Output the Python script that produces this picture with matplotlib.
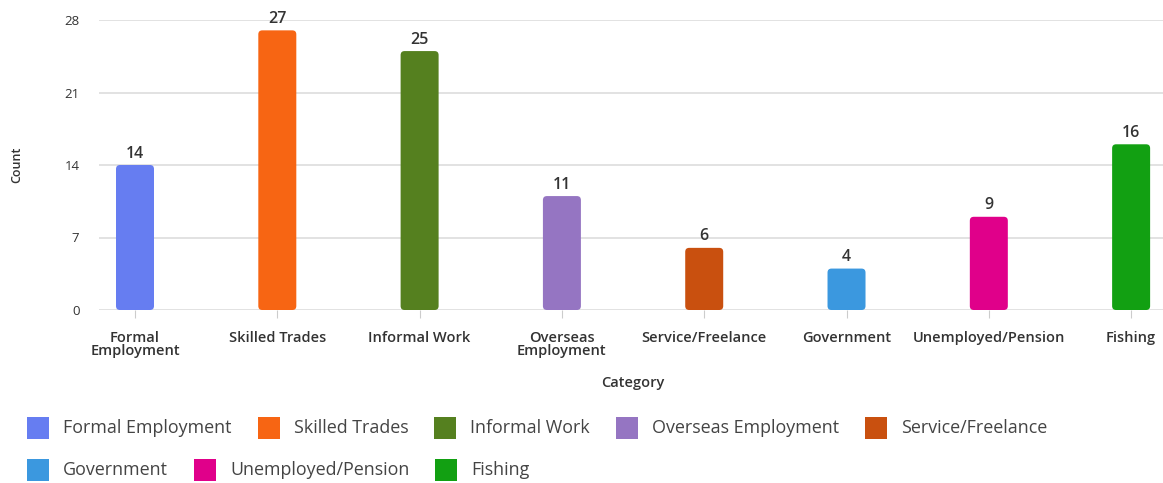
import matplotlib
matplotlib.use("Agg")
import matplotlib.pyplot as plt
from matplotlib.patches import FancyBboxPatch, Rectangle

categories = ["Formal Employment", "Skilled Trades", "Informal Work", "Overseas Employment",
              "Service/Freelance", "Government", "Unemployed/Pension", "Fishing"]
tick_labels = ["Formal\nEmployment", "Skilled Trades", "Informal Work", "Overseas\nEmployment",
               "Service/Freelance", "Government", "Unemployed/Pension", "Fishing"]
counts = [14, 27, 25, 11, 6, 4, 9, 16]
colors = ["#667DF1", "#F76513", "#55801F", "#9575C2", "#C9500F", "#3B98DF", "#E0008A", "#12A012"]
yticks = [0, 7, 14, 21, 28]

plt.rcParams['font.family'] = ['Open Sans', 'DejaVu Sans']

W, H = 1163, 483
fig = plt.figure(figsize=(W / 100, H / 100), dpi=100)
ax_l, ax_r, ax_b, ax_t = 99, 1163, 310, 20
ax = fig.add_axes([ax_l / W, (H - ax_b) / H, (ax_r - ax_l) / W, (ax_b - ax_t) / H])

xmin, xmax = -0.253, 7.224
ax.set_xlim(xmin, xmax)
ax.set_ylim(0, 28)

px_per_x = (ax_r - ax_l) / (xmax - xmin)
px_per_y = (ax_b - ax_t) / 28
aspect = px_per_x / px_per_y

bw = 0.267
for i, (v, c) in enumerate(zip(counts, colors)):
    p = FancyBboxPatch((i - bw / 2, 0), bw, v,
                       boxstyle="round,pad=0,rounding_size=0.028",
                       mutation_aspect=aspect, facecolor=c, edgecolor="none", zorder=3)
    ax.add_patch(p)
    ax.annotate(str(v), (i, v), xytext=(0, 2.5), textcoords="offset points",
                ha="center", va="bottom", fontsize=11.5, fontweight="semibold", color="#333333")

ax.set_yticks(yticks)
ax.set_yticklabels([str(t) for t in yticks], fontsize=9.5, color="#333333")
ax.set_xticks(range(len(categories)))
ax.set_xticklabels(tick_labels, fontsize=10.5, fontweight="semibold", color="#333333", linespacing=0.95)
ax.tick_params(axis="y", length=0, pad=14)
ax.tick_params(axis="x", length=6, color="#cccccc", pad=9)
ax.grid(axis="y", color="#dddddd", linewidth=1.2, zorder=0)
ax.set_axisbelow(True)
for s in ax.spines.values():
    s.set_visible(False)

fig.text(17 / W, 1 - 165 / H, "Count", rotation=90, ha="center", va="center",
         fontsize=9, fontweight="semibold", color="#333333")
fig.text(633 / W, 1 - 383 / H, "Category", ha="center", va="center",
         fontsize=10.5, fontweight="semibold", color="#333333")

# legend flow layout
fig.canvas.draw()
renderer = fig.canvas.get_renderer()
rows = [categories[:5], categories[5:]]
row_y = [428, 470]
sq = 22
idx = 0
for r, names in enumerate(rows):
    x = 27
    for name in names:
        c = colors[idx]
        idx += 1
        fig.patches.append(Rectangle((x / W, 1 - (row_y[r] + sq / 2) / H), sq / W, sq / H,
                                     transform=fig.transFigure, facecolor=c, edgecolor="none"))
        t = fig.text((x + 36) / W, 1 - row_y[r] / H, name, ha="left", va="center",
                     fontsize=12.9, color="#444444")
        bb = t.get_window_extent(renderer)
        x = x + 36 + bb.width + 26

fig.savefig("out.png", dpi=100)
